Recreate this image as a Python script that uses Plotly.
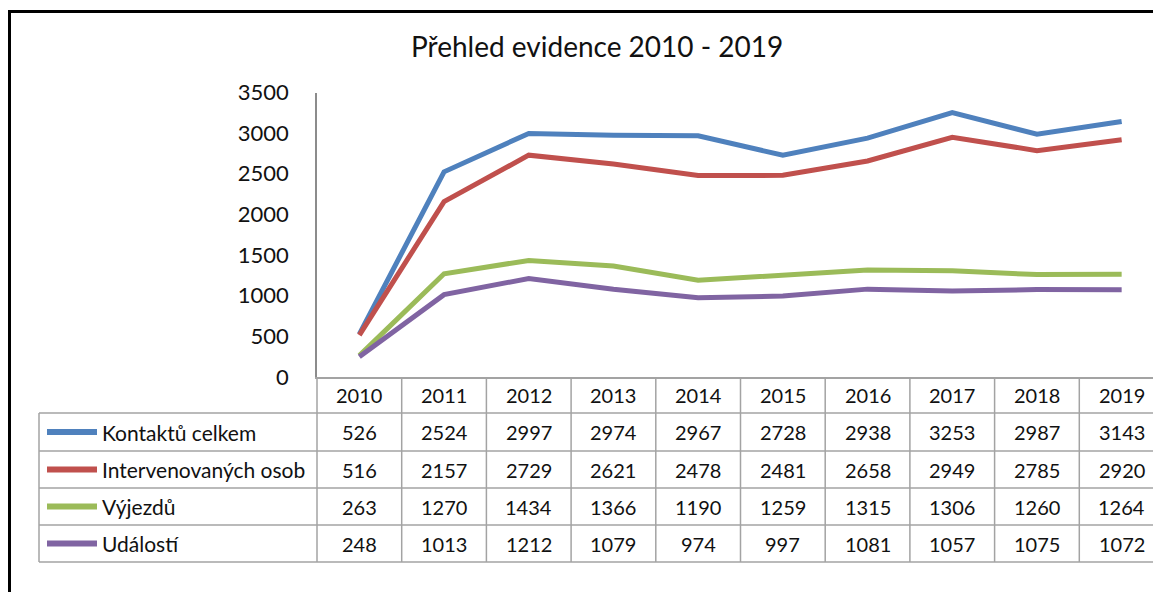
import plotly.graph_objects as go

years = ["2010", "2011", "2012", "2013", "2014", "2015", "2016", "2017", "2018", "2019"]
series_names = ["Kontaktů celkem", "Intervenovaných osob", "Výjezdů", "Událostí"]
kontakty = [526, 2524, 2997, 2974, 2967, 2728, 2938, 3253, 2987, 3143]
intervence = [516, 2157, 2729, 2621, 2478, 2481, 2658, 2949, 2785, 2920]
vyjezdy = [263, 1270, 1434, 1366, 1190, 1259, 1315, 1306, 1260, 1264]
udalosti = [248, 1013, 1212, 1079, 974, 997, 1081, 1057, 1075, 1072]
colors = ["#4F81BD", "#C0504D", "#9BBB59", "#8064A2"]
all_series = [kontakty, intervence, vyjezdy, udalosti]

# page body has an 8px margin: build the figure in page pixels minus that offset
OFF = 8
W, H = 1161 - OFF, 592 - OFF
FONT = "Lato"
TXT = "#111111"
GRID = "#a3a3a3"


def px(x):
    return (x - OFF) / W


def py(y):
    return 1 - (y - OFF) / H


# layout geometry (page pixels)
ax_left = 317
col_w = 84.7
y_top, y_zero = 92.5, 377
row_edges = [377, 413, 451, 488, 525, 562]
legend_left = 39

fig = go.Figure()
for name, vals, c in zip(series_names, all_series, colors):
    fig.add_trace(go.Scatter(x=years, y=vals, mode="lines", name=name,
                             line=dict(color=c, width=5), showlegend=False,
                             hoverinfo="skip"))

x_right_idx = (1161 - ax_left) / col_w - 0.5

shapes = []
annotations = []

# outer border
shapes.append(dict(type="rect", xref="paper", yref="paper",
                   x0=px(9.5), y0=py(11.5), x1=1.05, y1=-0.05,
                   line=dict(color="black", width=3), fillcolor="rgba(0,0,0,0)"))

# vertical table lines (column boundaries)
for i in range(1, len(years) + 1):
    shapes.append(dict(type="line", xref="x", yref="paper",
                       x0=i - 0.5, x1=i - 0.5, y0=py(row_edges[0]), y1=py(row_edges[-1]),
                       line=dict(color=GRID, width=1.5), layer="above"))
# left axis extension through table
shapes.append(dict(type="line", xref="paper", yref="paper",
                   x0=px(ax_left), x1=px(ax_left), y0=py(row_edges[0]), y1=py(row_edges[-1]),
                   line=dict(color=GRID, width=1.5)))
# legend column left edge
shapes.append(dict(type="line", xref="paper", yref="paper",
                   x0=px(legend_left), x1=px(legend_left), y0=py(row_edges[1]), y1=py(row_edges[-1]),
                   line=dict(color=GRID, width=1.5)))
# horizontal row lines
for ry in row_edges[1:]:
    shapes.append(dict(type="line", xref="paper", yref="paper",
                       x0=px(legend_left), x1=1.01, y0=py(ry), y1=py(ry),
                       line=dict(color=GRID, width=1.5)))

# header row (years)
hy = (row_edges[0] + row_edges[1]) / 2
for i, yr in enumerate(years):
    annotations.append(dict(x=i, y=py(hy), xref="x", yref="paper", text=yr,
                            showarrow=False, font=dict(family=FONT, size=20, color=TXT),
                            xanchor="center", yanchor="middle"))

# data rows
for r, (name, vals, c) in enumerate(zip(series_names, all_series, colors)):
    cy = (row_edges[r + 1] + row_edges[r + 2]) / 2
    shapes.append(dict(type="line", xref="paper", yref="paper",
                       x0=px(47), x1=px(97), y0=py(cy), y1=py(cy),
                       line=dict(color=c, width=6)))
    annotations.append(dict(x=px(100), y=py(cy), xref="paper", yref="paper", text=name,
                            showarrow=False, font=dict(family=FONT, size=21, color=TXT),
                            xanchor="left", yanchor="middle"))
    for i, v in enumerate(vals):
        annotations.append(dict(x=i, y=py(cy), xref="x", yref="paper", text=str(v),
                                showarrow=False, font=dict(family=FONT, size=20, color=TXT),
                                xanchor="center", yanchor="middle"))

# title
annotations.append(dict(x=px(597), y=py(46), xref="paper", yref="paper",
                        text="Přehled evidence 2010 - 2019", showarrow=False,
                        font=dict(family=FONT, size=28, color=TXT),
                        xanchor="center", yanchor="middle"))

fig.update_layout(
    width=W, height=H,
    margin=dict(l=0, r=0, t=0, b=0, autoexpand=False),
    paper_bgcolor="white", plot_bgcolor="white",
    shapes=shapes, annotations=annotations,
    xaxis=dict(domain=[px(ax_left), 1], range=[-0.5, x_right_idx], type="category",
               showticklabels=False, showgrid=False, zeroline=False, automargin=False,
               showline=True, linecolor=GRID, linewidth=1.5, ticks=""),
    yaxis=dict(domain=[py(y_zero), py(y_top)], range=[0, 3500], dtick=500,
               showgrid=False, zeroline=False, showline=True, linecolor="#8c8c8c",
               linewidth=1.5, ticks="", ticklabelstandoff=22, automargin=False,
               tickfont=dict(family=FONT, size=22, color=TXT)),
)

fig.write_html("out.html")
